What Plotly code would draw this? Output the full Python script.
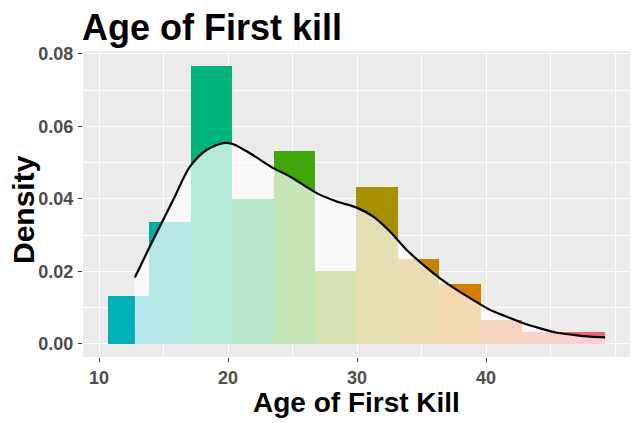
import plotly.graph_objects as go

# Histogram bins (centres, years) and densities
bin_centers = [12.28, 15.49, 18.70, 21.92, 25.13, 28.34, 31.56, 34.77, 37.98, 41.19, 44.41, 47.62]
bin_density = [0.0133, 0.0335, 0.0768, 0.0400, 0.0533, 0.0200, 0.0434, 0.0235, 0.0166, 0.0066, 0.0033, 0.0033]
bin_colors = ["#00B0B9", "#00ACA6", "#00B47C", "#12AC48", "#40A70A", "#7A9E00",
              "#A68F00", "#C48600", "#D97B00", "#E57130", "#EC6A50", "#EE6469"]
bin_width = 3.213

# Density curve
curve_x = [12.77, 13.80, 14.71, 15.74, 17.04, 18.33, 19.62, 20.40, 21.69, 23.50, 24.79, 26.87,
           28.42, 29.97, 31.26, 32.55, 33.85, 35.14, 36.43, 37.73, 39.01, 40.31, 41.61, 42.89,
           44.19, 45.49, 46.77, 48.07, 49.23]
curve_y = [0.0183, 0.0259, 0.0324, 0.0397, 0.0489, 0.0535, 0.0554, 0.0551, 0.0526, 0.0485, 0.0462, 0.0416,
           0.0393, 0.0376, 0.0351, 0.0310, 0.0259, 0.0218, 0.0181, 0.0149, 0.0121, 0.0094, 0.0075, 0.0057,
           0.0043, 0.0031, 0.0025, 0.0020, 0.0018]

x_ticks = [10, 20, 30, 40]
y_ticks = [0.00, 0.02, 0.04, 0.06, 0.08]

FONT = "Liberation Sans, Arial, sans-serif"
OFF = 8  # page body margin
W, H = 638 - OFF, 423 - OFF
ML, MT = 83 - OFF, 51 - OFF
PW, PH = 547, 306
MR, MB = W - ML - PW, H - MT - PH

fig = go.Figure()
fig.add_trace(go.Bar(
    x=bin_centers, y=bin_density, width=bin_width,
    marker=dict(color=bin_colors, line=dict(width=0)),
    showlegend=False, hoverinfo="skip"))
fig.add_trace(go.Scatter(
    x=curve_x, y=curve_y, mode="lines",
    line=dict(color="black", width=2.2, shape="spline", smoothing=0.8),
    fill="tozeroy", fillcolor="rgba(255,255,255,0.7)",
    showlegend=False, hoverinfo="skip"))

tickfont = dict(family=FONT, size=18, color="#4D4D4D", weight="bold")
fig.update_layout(
    width=W, height=H,
    margin=dict(l=ML, r=MR, t=MT, b=MB),
    paper_bgcolor="white", plot_bgcolor="#EBEBEB",
    bargap=0,
    title=dict(text="<b>Age of First kill</b>", x=(82 - OFF) / W, xanchor="left", xref="container",
               y=1 - (27 - OFF) / H, yanchor="middle", yref="container",
               font=dict(family=FONT, size=36, color="black")),
    xaxis=dict(range=[8.75, 51.16], tickvals=x_ticks, ticktext=[str(v) for v in x_ticks],
               automargin=False, ticklabelstandoff=0,
               showgrid=True, gridcolor="white", gridwidth=1.2, zeroline=False,
               minor=dict(dtick=5, tick0=5, showgrid=True, gridcolor="white", gridwidth=0.5),
               ticks="outside", ticklen=4, tickcolor="#333333", tickwidth=1,
               tickfont=tickfont),
    yaxis=dict(range=[-0.0036, 0.0808], tickvals=y_ticks, ticktext=["%.2f" % v for v in y_ticks],
               automargin=False, ticklabelstandoff=1,
               showgrid=True, gridcolor="white", gridwidth=1.2, zeroline=False,
               minor=dict(dtick=0.01, tick0=0.01, showgrid=True, gridcolor="white", gridwidth=0.5),
               ticks="outside", ticklen=4, tickcolor="#333333", tickwidth=1,
               tickfont=tickfont),
    annotations=[
        dict(text="<b>Age of First Kill</b>", xref="paper", yref="paper",
             x=0.5, y=(MT + PH - (402 - OFF)) / PH, xanchor="center", yanchor="middle",
             showarrow=False, font=dict(family=FONT, size=28, color="black")),
        dict(text="<b>Density</b>", xref="paper", yref="paper",
             x=((24 - OFF) - ML) / PW, y=(MT + PH - (210 - OFF)) / PH, xanchor="center", yanchor="middle",
             textangle=-90, showarrow=False, font=dict(family=FONT, size=30, color="black")),
    ],
)

fig.write_html("out.html")
